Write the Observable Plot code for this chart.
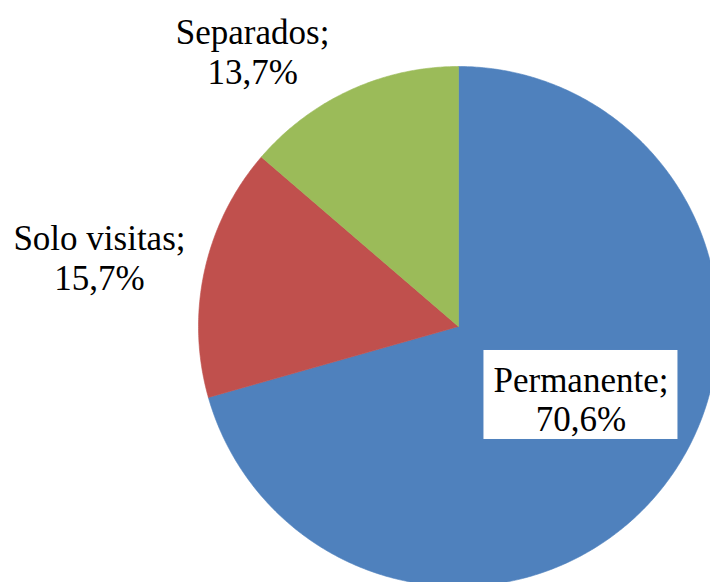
<!DOCTYPE html>
<html>
<head>
<meta charset="utf-8">
<script src="https://cdn.jsdelivr.net/npm/d3@7"></script>
<script src="https://cdn.jsdelivr.net/npm/@observablehq/plot@0.6"></script>
<style>
  html, body { margin: 0; padding: 0; background: #fff; overflow: hidden; }
  #chart svg { overflow: hidden; display: block; }
</style>
</head>
<body>
<div id="chart"></div>
<script>
// Data
const categories = ["Permanente", "Solo visitas", "Separados"];
const values = [70.6, 15.7, 13.7];
const valueLabels = ["70,6%", "15,7%", "13,7%"];
const colors = ["#4F81BD", "#C0504D", "#9BBB59"];

// Label layout (unit-circle coordinates, pie radius = 1)
const labelX = [0.471, -1.381, -0.792];
const labelY = [-0.278, 0.268, 1.058];
const labelBoxed = [true, false, false];

// Build slice polygons (geometry for the pie, starting at 12 o'clock, clockwise)
const total = d3.sum(values);
const slicePts = [];
let start = 0;
categories.forEach((cat, i) => {
  const span = values[i] / total * 2 * Math.PI;
  const n = Math.max(8, Math.ceil(span / (Math.PI / 360)));
  slicePts.push({cat, x: 0, y: 0});
  for (let k = 0; k <= n; k++) {
    const a = start + span * k / n;
    slicePts.push({cat, x: Math.sin(a), y: Math.cos(a)});
  }
  slicePts.push({cat, x: 0, y: 0});
  start += span;
});

const labels = categories.map((c, i) => ({
  cat: c,
  text: c + ";\n" + valueLabels[i],
  x: labelX[i],
  y: labelY[i],
  boxed: labelBoxed[i]
}));

const W = 710, H = 582;
const cx = 458, cy = 326, R = 260;
const bw = 97 / R, bh = 44.5 / R, boff = 0.0146;

const chart = Plot.plot({
  width: W,
  height: H,
  margin: 0,
  x: {domain: [-cx / R, (W - cx) / R], axis: null},
  y: {domain: [-(H - cy) / R, cy / R], axis: null},
  color: {domain: categories, range: colors},
  marks: [
    Plot.line(slicePts, {x: "x", y: "y", z: "cat", fill: "cat", stroke: "cat", strokeWidth: 0.6, curve: "linear"}),
    Plot.rect(labels.filter(d => d.boxed), {
      x1: d => d.x - bw, x2: d => d.x + bw,
      y1: d => d.y + boff - bh, y2: d => d.y + boff + bh,
      fill: "white"
    }),
    Plot.text(labels, {
      x: "x", y: "y", text: "text",
      fontFamily: "Liberation Serif",
      fontSize: 35, lineHeight: 1.14, fill: "black",
      textAnchor: "middle"
    })
  ]
});
document.getElementById("chart").appendChild(chart);
</script>
</body>
</html>
